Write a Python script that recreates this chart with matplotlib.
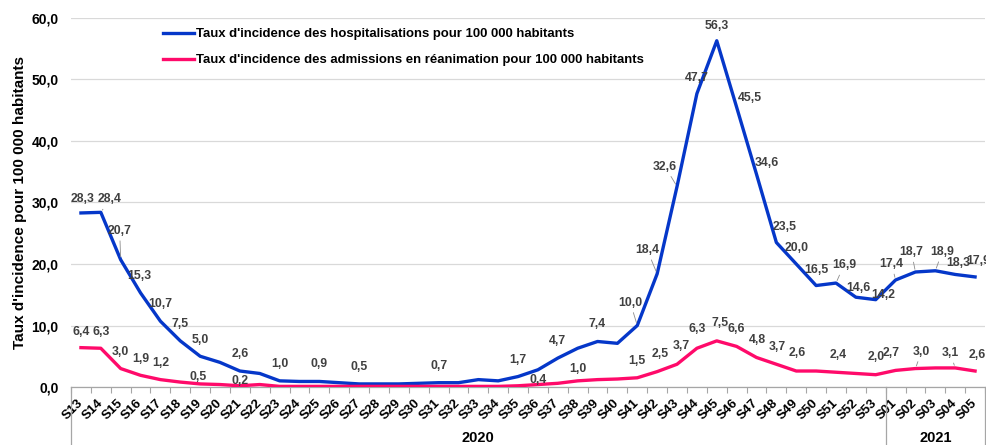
import matplotlib
matplotlib.use("Agg")
import matplotlib.pyplot as plt
from matplotlib.lines import Line2D

plt.rcParams['font.family'] = ['Liberation Sans', 'DejaVu Sans']

# ---------------- data ----------------
weeks = ["S13", "S14", "S15", "S16", "S17", "S18", "S19", "S20", "S21", "S22",
         "S23", "S24", "S25", "S26", "S27", "S28", "S29", "S30", "S31", "S32",
         "S33", "S34", "S35", "S36", "S37", "S38", "S39", "S40", "S41", "S42",
         "S43", "S44", "S45", "S46", "S47", "S48", "S49", "S50", "S51", "S52",
         "S53", "S01", "S02", "S03", "S04", "S05"]
years = ["2020", "2021"]
year_counts = [41, 5]

hospit = [28.3, 28.4, 20.7, 15.3, 10.7, 7.5, 5.0, 4.0, 2.6, 2.2,
          1.0, 0.9, 0.9, 0.7, 0.5, 0.5, 0.5, 0.6, 0.7, 0.7,
          1.2, 1.0, 1.7, 2.8, 4.7, 6.3, 7.4, 7.1, 10.0, 18.4,
          32.6, 47.7, 56.3, 45.5, 34.6, 23.5, 20.0, 16.5, 16.9, 14.6,
          14.2, 17.4, 18.7, 18.9, 18.3, 17.9]
rea = [6.4, 6.3, 3.0, 1.9, 1.2, 0.8, 0.5, 0.4, 0.2, 0.4,
       0.1, 0.1, 0.1, 0.1, 0.1, 0.1, 0.1, 0.1, 0.1, 0.1,
       0.1, 0.1, 0.2, 0.4, 0.6, 1.0, 1.2, 1.3, 1.5, 2.5,
       3.7, 6.3, 7.5, 6.6, 4.8, 3.7, 2.6, 2.6, 2.4, 2.2,
       2.0, 2.7, 3.0, 3.1, 3.1, 2.6]

label_hospit = "Taux d'incidence des hospitalisations pour 100 000 habitants"
label_rea = "Taux d'incidence des admissions en réanimation pour 100 000 habitants"
ylabel = "Taux d'incidence pour 100 000 habitants"

# ---------------- style: label placement (pixels, +x right, +y down), leader flag ----------------
hosp_lab = {"S13": (2, -14, 0), "S14": (9, -13, 1), "S15": (-1, -29, 1), "S16": (-1, -17, 0),
            "S17": (0, -17, 0), "S18": (0, -17, 0), "S19": (0, -16, 0), "S21": (0, -17, 0),
            "S23": (0, -17, 0), "S25": (0, -17, 0), "S27": (0, -17, 0), "S31": (0, -17, 0),
            "S35": (0, -17, 0), "S37": (0, -17, 0), "S39": (0, -17, 0), "S41": (-7, -23, 1),
            "S42": (-10, -24, 1), "S43": (-12, -20, 1), "S44": (0, -16, 0), "S45": (0, -15, 0),
            "S46": (13, -9, 0), "S47": (10, -11, 0), "S48": (8, -15, 0), "S49": (0, -16, 0),
            "S50": (0, -16, 0), "S51": (8, -18, 1), "S52": (3, -9, 0), "S53": (8, -5, 0),
            "S01": (-4, -16, 1), "S02": (-4, -20, 1), "S03": (7, -19, 1), "S04": (3, -11, 0),
            "S05": (3, -16, 0)}
rea_lab = {"S13": (0, -16, 0), "S14": (0, -16, 0), "S15": (0, -17, 0), "S16": (0, -16, 0),
           "S17": (0, -17, 0), "S19": (-2, -7, 0), "S21": (0, -5, 0), "S36": (0, -5, 0),
           "S38": (0, -12, 0), "S41": (0, -17, 0), "S42": (3, -18, 0), "S43": (4, -18, 0),
           "S44": (0, -19, 0), "S45": (3, -18, 0), "S46": (0, -17, 0), "S47": (1, -17, 0),
           "S48": (1, -17, 0), "S49": (1, -18, 0), "S51": (2, -17, 0), "S53": (0, -18, 0),
           "S01": (-4, -17, 0), "S02": (6, -17, 1), "S04": (-5, -15, 1), "S05": (2, -16, 0)}

BLUE = "#0537C9"
PINK = "#FF0A6A"
LABC = "#404040"

W, H = 986, 445
fig = plt.figure(figsize=(W / 100, H / 100), dpi=100)
L, R, T, B = 71, 985, 18, 387
ax = fig.add_axes([L / W, 1 - B / H, (R - L) / W, (B - T) / H])

x = list(range(len(weeks)))
ax.plot(x, hospit, color=BLUE, lw=2.4, solid_joinstyle='round', zorder=3, label=label_hospit)
ax.plot(x, rea, color=PINK, lw=2.4, solid_joinstyle='round', zorder=3, label=label_rea)

ax.set_xlim(-0.5, len(weeks) - 0.5)
ax.set_ylim(0, 60)
ax.set_yticks(range(0, 61, 10))
ax.set_yticklabels([f"{v:.1f}".replace('.', ',') for v in range(0, 61, 10)],
                   fontsize=10, fontweight='bold')
ax.tick_params(axis='y', length=0, pad=9)
ax.grid(axis='y', color='#D9D9D9', lw=0.9)
ax.set_axisbelow(True)
for s in ['top', 'right', 'left']:
    ax.spines[s].set_visible(False)
ax.spines['bottom'].set_color('#A6A6A6')
ax.spines['bottom'].set_linewidth(0.9)

ax.set_xticks(x)
ax.set_xticklabels(weeks, rotation=45, ha='right', va='center', rotation_mode='anchor',
                   fontsize=9.5, fontweight='bold')
ax.tick_params(axis='x', length=0, pad=10)
ax.set_xticks([i - 0.5 for i in range(len(weeks) + 1)], minor=True)
ax.tick_params(axis='x', which='minor', length=4, color='#A6A6A6', width=0.8)

ax.set_ylabel(ylabel, fontsize=11, fontweight='bold', labelpad=3)

def add_labels(vals, labs):
    for i, w in enumerate(weeks):
        if w not in labs:
            continue
        dx, dy, lead = labs[w]
        txt = f"{vals[i]:.1f}".replace('.', ',')
        kw = dict(xy=(i, vals[i]), xytext=(dx, -dy), textcoords='offset pixels',
                  ha='center', va='center', fontsize=8.8, fontweight='bold', color=LABC,
                  zorder=4, annotation_clip=False)
        if lead:
            kw['arrowprops'] = dict(arrowstyle='-', color='#8C8C8C', lw=0.6,
                                    shrinkA=1, shrinkB=2)
        ax.annotate(txt, **kw)

add_labels(hospit, hosp_lab)
add_labels(rea, rea_lab)

# legend
ax.legend(loc='upper left', bbox_to_anchor=(163 / W, 1 - 28 / H), bbox_transform=fig.transFigure,
          frameon=False, prop=dict(size=9.45, weight='bold'), handlelength=2.35,
          handletextpad=0.2, labelspacing=1.05, borderpad=0, borderaxespad=0)

# year level of category axis
pos = 0
bounds = [pos]
for c in year_counts:
    pos += c
    bounds.append(pos)
for b in bounds:
    xf = (L + (R - L) * b / len(weeks)) / W
    fig.add_artist(Line2D([xf, xf], [0, 1 - B / H], transform=fig.transFigure,
                          color='#A6A6A6', lw=0.9))
for k, yr in enumerate(years):
    mid = (bounds[k] + bounds[k + 1]) / 2
    xf = (L + (R - L) * mid / len(weeks)) / W
    fig.text(xf, 1 - 438 / H, yr, ha='center', va='center', fontsize=10.5, fontweight='bold')

fig.savefig("out.png", dpi=100)
